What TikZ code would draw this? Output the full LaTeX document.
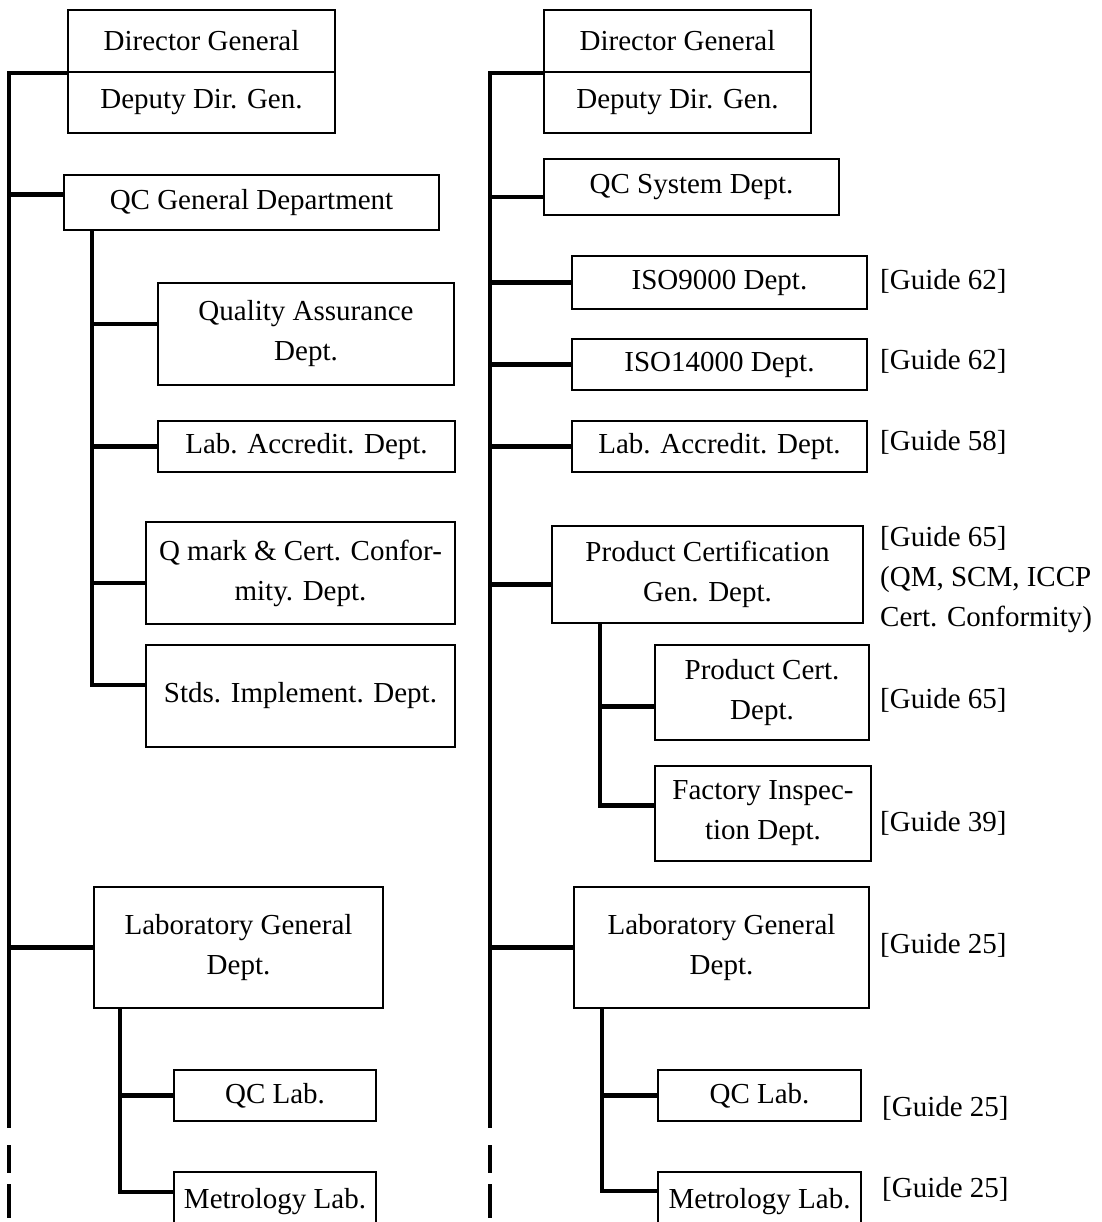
\documentclass[tikz,border=0pt]{standalone}
\usepackage{fontspec}
\setmainfont{Liberation Serif}
\usetikzlibrary{positioning}

\tikzset{
  unit/.style={draw, line width=2pt, align=center, inner sep=0pt, anchor=north west},
  link/.style={line width=4.2pt},
  guide/.style={anchor=west, align=left, inner sep=0pt}
}

\begin{document}
\begin{tikzpicture}[x=1pt, y=-1pt, font=\fontsize{29}{40}\selectfont]
  \useasboundingbox (0,0) rectangle (1101,1222);

  % left chart
  \node[unit, minimum width=267, minimum height=62] (dgL) at (67,9) {Director General};
  \node[unit, minimum width=267, minimum height=61] (ddgL) at (67,71) {Deputy Dir. Gen.};
  \node[unit, minimum width=375, minimum height=55] (qcgL) at (63,174) {QC General Department};
  \node[unit, minimum width=296, minimum height=102] (qaL) at (157,282) {Quality Assurance\\Dept.};
  \node[unit, minimum width=297, minimum height=51] (labaccL) at (157,420) {Lab. Accredit. Dept.};
  \node[unit, minimum width=309, minimum height=102] (qmarkL) at (145,521) {Q mark \& Cert. Confor-\\mity. Dept.};
  \node[unit, minimum width=309, minimum height=102] (stdsL) at (145,644) {Stds. Implement. Dept.};
  \node[unit, minimum width=289, minimum height=121] (labgL) at (93,886) {Laboratory General\\Dept.};
  \node[unit, minimum width=202, minimum height=51] (qclL) at (173,1069) {QC Lab.};
  \node[unit, minimum width=202, minimum height=60] (metL) at (173,1171) {Metrology Lab.};

  \coordinate (trunkL) at (9,1128);
  \coordinate (trunkLend) at (9,1218);
  \coordinate (qcgSub) at ([xshift=29]qcgL.south west);
  \coordinate (labgSubL) at ([xshift=27]labgL.south west);

  \draw[link] (dgL.south west) -| (trunkL);
  \draw[link, dash pattern=on 0pt off 17pt on 28pt off 11pt on 40pt] (trunkL) -- (trunkLend);
  \foreach \b/\dy in {qcgL/8, labgL/0}
    \draw[link] ([yshift=\dy]\b.west) coordinate (hook) -- (hook -| trunkL);
  \draw[link] (qcgSub) |- ([yshift=11]stdsL.west);
  \foreach \b/\dy in {qaL/10, labaccL/0, qmarkL/-10}
    \draw[link] ([yshift=\dy]\b.west) coordinate (hook) -- (hook -| qcgSub);
  \draw[link] (labgSubL) |- ([yshift=10]metL.west);
  \draw[link] (qclL.west) -- (qclL.west -| labgSubL);

  % right chart
  \node[unit, minimum width=267, minimum height=62] (dgR) at (543,9) {Director General};
  \node[unit, minimum width=267, minimum height=61] (ddgR) at (543,71) {Deputy Dir. Gen.};
  \node[unit, minimum width=295, minimum height=56] (qcsR) at (543,158) {QC System Dept.};
  \node[unit, minimum width=295, minimum height=53] (iso9R) at (571,255) {ISO9000 Dept.};
  \node[unit, minimum width=295, minimum height=51] (iso14R) at (571,338) {ISO14000 Dept.};
  \node[unit, minimum width=295, minimum height=51] (labaccR) at (571,420) {Lab. Accredit. Dept.};
  \node[unit, minimum width=311, minimum height=97] (pcgR) at (551,525) {Product Certification\\Gen. Dept.};
  \node[unit, minimum width=214, minimum height=95] (pcR) at (654,644) {Product Cert.\\Dept.};
  \node[unit, minimum width=216, minimum height=95] (fiR) at (654,765) {Factory Inspec-\\tion Dept.};
  \node[unit, minimum width=295, minimum height=121] (labgR) at (573,886) {Laboratory General\\Dept.};
  \node[unit, minimum width=203, minimum height=51] (qclR) at (657,1069) {QC Lab.};
  \node[unit, minimum width=203, minimum height=60] (metR) at (657,1171) {Metrology Lab.};

  \coordinate (trunkR) at (490,1128);
  \coordinate (trunkRend) at (490,1218);
  \coordinate (pcgSub) at ([xshift=49]pcgR.south west);
  \coordinate (labgSubR) at ([xshift=29]labgR.south west);

  \draw[link] (dgR.south west) -| (trunkR);
  \draw[link, dash pattern=on 0pt off 17pt on 28pt off 11pt on 40pt] (trunkR) -- (trunkRend);
  \foreach \b/\dy in {qcsR/-10, iso9R/0, iso14R/0, labaccR/0, pcgR/-10, labgR/0}
    \draw[link] ([yshift=\dy]\b.west) coordinate (hook) -- (hook -| trunkR);
  \draw[link] (pcgSub) |- ([yshift=8]fiR.west);
  \draw[link] ([yshift=-14]pcR.west) coordinate (hook) -- (hook -| pcgSub);
  \draw[link] (labgSubR) |- ([yshift=11]metR.west);
  \draw[link] (qclR.west) -- (qclR.west -| labgSubR);

  % ISO guides
  \node[guide] (g62a) at (880,281) {[Guide 62]};
  \node[guide] (g62b) at (880,361) {[Guide 62]};
  \node[guide] (g58) at (880,442) {[Guide 58]};
  \node[guide] (g65a) at (880,580) {[Guide 65]\\(QM, SCM, ICCP\\Cert. Conformity)};
  \node[guide] (g65b) at (880,700) {[Guide 65]};
  \node[guide] (g39) at (880,823) {[Guide 39]};
  \node[guide] (g25a) at (880,945) {[Guide 25]};
  \node[guide] (g25b) at (882,1108) {[Guide 25]};
  \node[guide] (g25c) at (882,1189) {[Guide 25]};
\end{tikzpicture}
\end{document}
